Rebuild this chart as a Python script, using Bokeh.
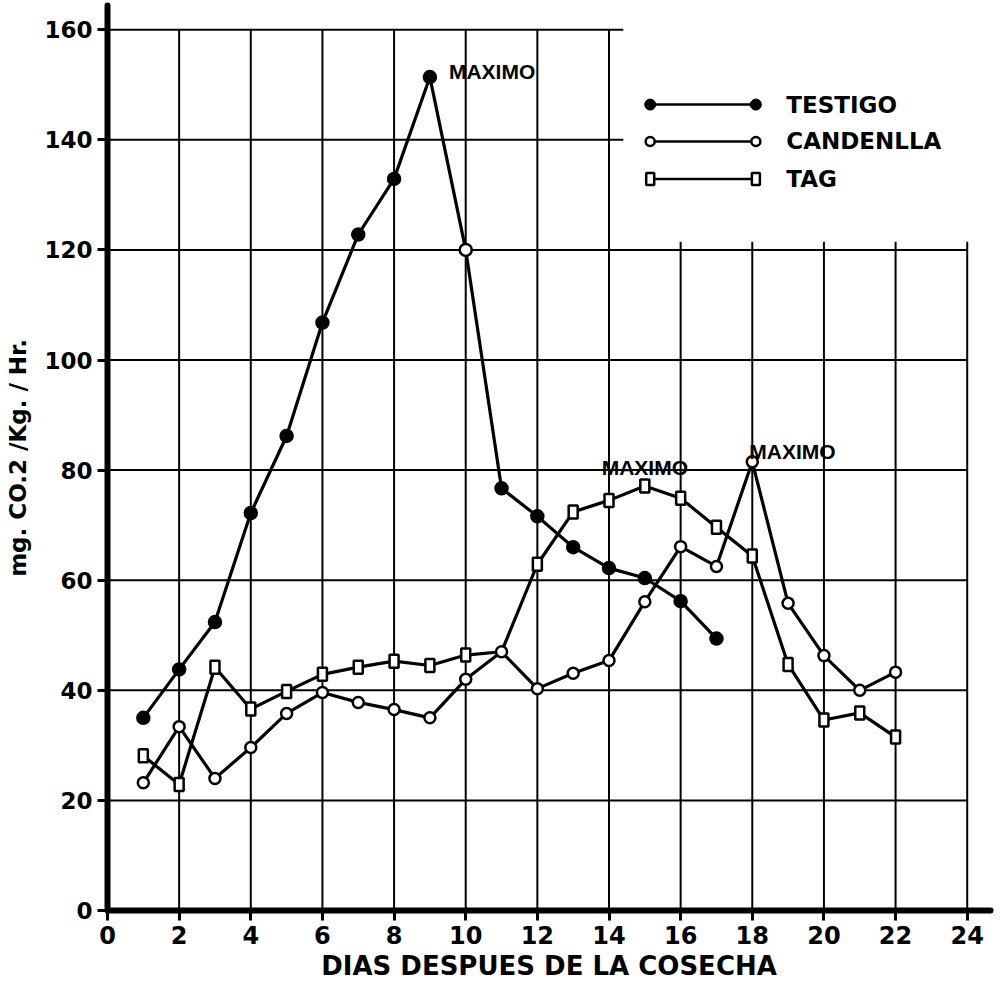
from bokeh.plotting import figure
from bokeh.models import Range1d, FixedTicker
from bokeh.embed import file_html
from bokeh.resources import INLINE
from bokeh.core.properties import value

# ---------------- data ----------------
days = list(range(1, 23))
testigo_days = list(range(1, 18))
testigo = [35.0, 43.8, 52.4, 72.2, 86.2, 106.8, 122.8, 132.9, 151.4, 120.0,
           76.7, 71.6, 66.0, 62.2, 60.4, 56.2, 49.4]
candelilla = [23.2, 33.4, 24.0, 29.6, 35.8, 39.6, 37.8, 36.5, 35.0, 42.0, 47.0,
              40.3, 43.1, 45.4, 56.1, 66.1, 62.5, 81.5, 55.8, 46.3, 40.0, 43.3]
tag = [28.1, 22.9, 44.2, 36.6, 39.8, 42.9, 44.2, 45.3, 44.5, 46.4, 47.0,
       62.9, 72.4, 74.5, 77.1, 74.9, 69.6, 64.4, 44.7, 34.6, 35.9, 31.5]
testigo_open_days = [10]
x_ticks = list(range(0, 25, 2))
y_ticks = list(range(0, 161, 20))
series_names = ["TESTIGO", "CANDENLLA", "TAG"]
peak_label = "MAXIMO"
x_title = "DIAS DESPUES DE LA COSECHA"
y_title = "mg. CO.2 /Kg. / Hr."

# ---------------- layout constants ----------------
X_END, Y_END = 24.65, 164.4
GRID_FULL_X = 14            # verticals up to here reach the top tick
GRID_CUT_X = 14.4           # upper horizontals stop here (legend area)
GRID_CUT_Y = 120            # horizontals up to here span the whole width
LEG_X0, LEG_X1, LEG_TX = 15.15, 18.1, 18.95
LEG_Y = [146.4, 139.7, 132.9]

BOLD = "bold"
p = figure(width=1005, height=993,
           x_range=Range1d(0, X_END), y_range=Range1d(0, Y_END),
           output_backend="svg", toolbar_location=None,
           min_border_left=107, min_border_right=15,
           min_border_top=5, min_border_bottom=83,
           background_fill_color="white", border_fill_color="white")
p.outline_line_color = None
p.xgrid.visible = False
p.ygrid.visible = False

for ax, ticks in ((p.xaxis, x_ticks), (p.yaxis, y_ticks)):
    ax.ticker = FixedTicker(ticks=ticks)
    ax.axis_line_width = 6
    ax.axis_line_cap = "round"
    ax.axis_line_color = "black"
    ax.major_tick_line_width = 3
    ax.major_tick_line_color = "black"
    ax.major_tick_out = 10
    ax.major_tick_in = 0
    ax.minor_tick_out = 0
    ax.minor_tick_in = 0
    ax.major_label_text_font = "DejaVu Sans"
    ax.major_label_text_font_style = BOLD
    ax.major_label_text_color = "black"
    ax.major_label_standoff = 5
    ax.axis_label_text_font = "DejaVu Sans"
    ax.axis_label_text_font_style = BOLD
    ax.axis_label_text_color = "black"

p.xaxis.major_label_text_font_size = "24px"
p.yaxis.major_label_text_font_size = "23px"
p.xaxis.axis_label = x_title
p.xaxis.axis_label_text_font_size = "26px"
p.xaxis.axis_label_standoff = 4
p.yaxis.axis_label = y_title
p.yaxis.axis_label_text_font_size = "23px"
p.yaxis.axis_label_standoff = 10

# ---------------- grid (partial, as in the original) ----------------
vx = [t for t in x_ticks if t > 0]
vtop = [y_ticks[-1] if t <= GRID_FULL_X else GRID_CUT_Y + 1.5 for t in vx]
p.segment(x0=vx, y0=[0] * len(vx), x1=vx, y1=vtop, line_color="black", line_width=2)
hy = [t for t in y_ticks if t > 0]
hright = [x_ticks[-1] if t <= GRID_CUT_Y else GRID_CUT_X for t in hy]
p.segment(x0=[0] * len(hy), y0=hy, x1=hright, y1=hy, line_color="black", line_width=2)

# ---------------- series ----------------
p.line(testigo_days, testigo, line_color="black", line_width=3.2)
p.line(days, candelilla, line_color="black", line_width=3.2)
p.line(days, tag, line_color="black", line_width=3.2)

t_fill = ["white" if d in testigo_open_days else "black" for d in testigo_days]
p.scatter(testigo_days, testigo, marker="circle", size=12, fill_color=t_fill,
          line_color="black", line_width=2.5)
p.scatter(days, candelilla, marker="circle", size=11, fill_color="white",
          line_color="black", line_width=2.5)
# TAG squares (not where the TAG curve passes through a CANDENLLA point)
tag_mx = [d for d, t, c in zip(days, tag, candelilla) if abs(t - c) > 0.5]
tag_my = [t for t, c in zip(tag, candelilla) if abs(t - c) > 0.5]
p.rect(x=tag_mx, y=tag_my, width=9, height=13, width_units="screen",
       height_units="screen", fill_color="white", line_color="black", line_width=2.5)

# ---------------- MAXIMO labels ----------------
def peak(xs, ys):
    i = ys.index(max(ys))
    return xs[i], ys[i]

lbl = dict(text_font=value("Liberation Sans"), text_font_style="bold",
           text_font_size="21px", text_color="black")
px, py = peak(testigo_days, testigo)
p.text(x=[px], y=[py], text=[peak_label], x_offset=19, y_offset=-6,
       text_align="left", text_baseline="alphabetic", **lbl)
px, py = peak(days, tag)
p.text(x=[px], y=[py], text=[peak_label], x_offset=0, y_offset=-19,
       text_align="center", text_baseline="alphabetic", **lbl)
px, py = peak(days, candelilla)
p.text(x=[px], y=[py], text=[peak_label], x_offset=-3, y_offset=-10,
       text_align="left", text_baseline="alphabetic", **lbl)

# ---------------- legend ----------------
p.segment(x0=[LEG_X0] * 3, y0=LEG_Y, x1=[LEG_X1] * 3, y1=LEG_Y,
          line_color="black", line_width=2.5)
p.scatter([LEG_X0, LEG_X1], [LEG_Y[0]] * 2, marker="circle", size=11,
          fill_color="black", line_color="black")
p.scatter([LEG_X0, LEG_X1], [LEG_Y[1]] * 2, marker="circle", size=9,
          fill_color="white", line_color="black", line_width=2.5)
p.rect(x=[LEG_X0, LEG_X1], y=[LEG_Y[2]] * 2, width=8, height=12,
       width_units="screen", height_units="screen", fill_color="white",
       line_color="black", line_width=2.5)
p.text(x=[LEG_TX] * 3, y=LEG_Y, text=series_names,
       text_font=value("DejaVu Sans"), text_font_style="bold",
       text_font_size="23px", text_color="black",
       text_align="left", text_baseline="middle")

open("out.html", "w").write(file_html(p, INLINE))
